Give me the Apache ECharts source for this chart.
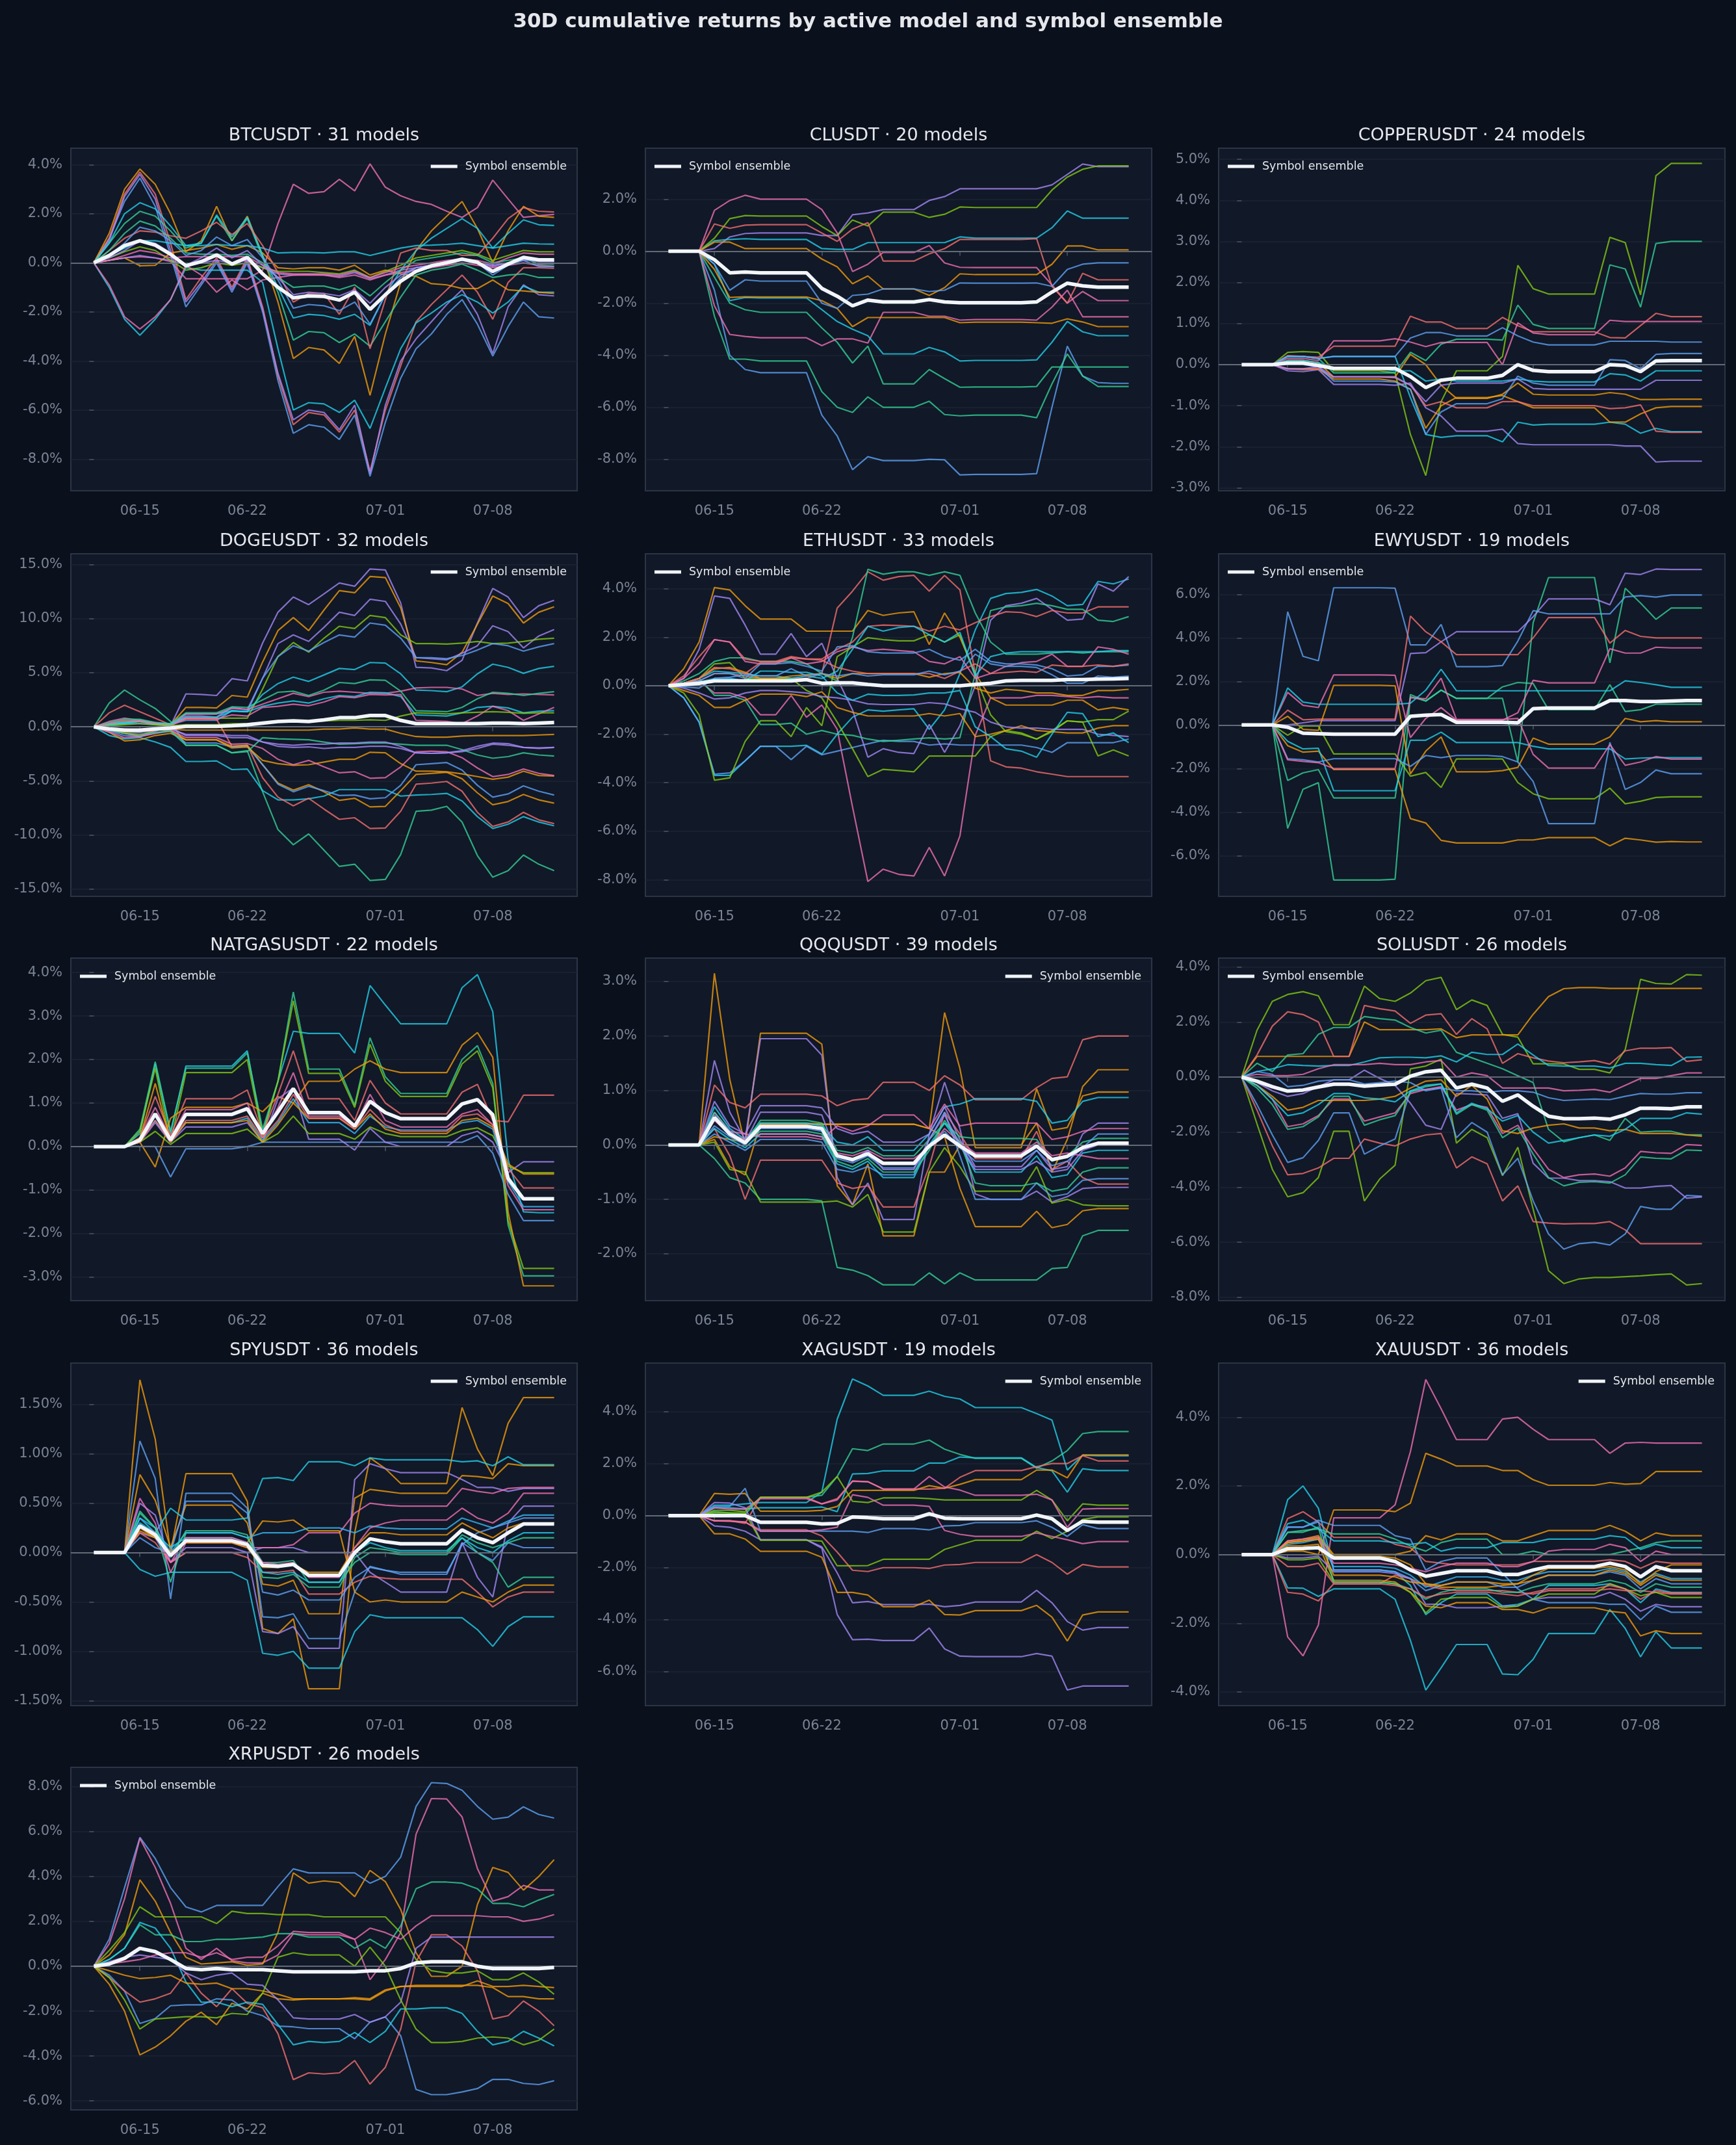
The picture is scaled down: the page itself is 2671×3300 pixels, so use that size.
<!DOCTYPE html>
<html>
<head>
<meta charset="UTF-8">
<title>30D cumulative returns</title>
<script src="https://cdn.jsdelivr.net/npm/echarts@6/dist/echarts.min.js"></script>
<style>
html,body{margin:0;padding:0;background:#0b101d;}
#chart{width:2671px;height:3300px;}
</style>
</head>
<body>
<div id="chart"></div>
<script>
// one point per day, 06-12 .. 07-12
var days = ['06-12','06-13','06-14','06-15','06-16','06-17','06-18','06-19','06-20','06-21','06-22','06-23','06-24','06-25','06-26','06-27','06-28','06-29','06-30','07-01','07-02','07-03','07-04','07-05','07-06','07-07','07-08','07-09','07-10','07-11','07-12'];
var tickLabels = ['06-15','06-22','07-01','07-08'];

var symbols = ['BTCUSDT','CLUSDT','COPPERUSDT','DOGEUSDT','ETHUSDT','EWYUSDT','NATGASUSDT','QQQUSDT','SOLUSDT','SPYUSDT','XAGUSDT','XAUUSDT','XRPUSDT'];
var modelCounts = [31,20,24,32,33,19,22,39,26,36,19,36,26];

// ---- BTCUSDT
var btcTicks = [-8,-6,-4,-2,0,2,4];
var btcEnsemble = [0,0.3,0.7,0.9,0.72,0.35,-0.12,0.05,0.32,-0.05,0.22,-0.45,-1.0,-1.43,-1.35,-1.37,-1.52,-1.2,-1.9,-1.3,-0.75,-0.35,-0.12,0.0,0.15,0.02,-0.35,-0.05,0.22,0.12,0.12];
var btcModels = [
 [0,0.1,0.2,0.25,0.2,0.05,-0.65,-0.65,-0.65,-0.65,-0.65,-0.3,1.6,3.2,2.83,2.9,3.4,2.93,4.03,3.08,2.73,2.5,2.38,2.1,1.85,2.25,3.37,2.6,1.85,1.92,1.97],
 [0,1.0,2.5,3.45,2.3,0.3,-1.8,-0.9,0.0,-1.2,0.0,-2.0,-4.8,-6.95,-6.6,-6.7,-7.2,-6.2,-8.7,-6.5,-4.7,-3.5,-2.9,-2.1,-1.5,-2.5,-3.8,-2.6,-1.6,-2.2,-2.25],
 [0,1.0,2.8,3.7,2.8,0.8,-1.5,-0.6,0.2,-1.0,0.2,-1.8,-4.6,-6.6,-6.1,-6.2,-6.9,-6.0,-8.5,-6.0,-4.2,-2.4,-1.7,-1.1,-0.5,-1.2,-2.3,-0.8,-0.2,-0.2,-0.22],
 [0,0.9,2.7,3.6,2.6,0.5,-1.6,-0.8,0.1,-1.1,0.1,-1.9,-4.5,-6.4,-6.0,-6.1,-6.8,-5.8,-8.6,-5.8,-4.0,-3.1,-2.4,-1.7,-1.1,-2.1,-3.7,-1.8,-0.9,-1.3,-1.35],
 [0,-1.0,-2.3,-2.95,-2.3,-1.5,-0.2,-0.3,-0.3,-0.3,-0.3,-0.8,-3.5,-6.0,-5.7,-5.75,-6.1,-5.6,-6.75,-5.1,-3.5,-2.45,-2.05,-1.6,-1.3,-1.6,-2.05,-1.6,-0.95,-1.2,-1.2],
 [0,1.2,3.0,3.82,3.2,2.0,0.45,0.9,2.3,0.9,1.9,0.3,-1.6,-3.9,-3.45,-3.55,-4.1,-3.0,-5.4,-2.9,-0.8,0.5,1.3,1.9,2.5,1.4,0.0,1.3,2.3,1.9,1.85],
 [0,0.1,0.2,-0.12,-0.1,0.4,0.5,0.6,0.75,0.55,0.7,0.4,-0.2,-0.25,-0.2,-0.2,-0.3,-0.1,-0.5,-0.3,-0.45,-0.55,-0.85,-0.9,-1.05,-1.05,-0.7,-1.1,-1.15,-1.2,-1.25],
 [0,0.3,0.6,0.9,0.9,0.8,0.7,0.7,0.75,0.7,0.7,0.6,0.4,0.42,0.42,0.4,0.45,0.45,0.3,0.45,0.6,0.7,0.72,0.75,0.8,0.7,0.6,0.7,0.8,0.77,0.76],
 [0,0.8,1.6,2.1,1.9,1.3,0.6,0.8,1.9,0.9,1.8,0.2,-1.2,-3.15,-2.8,-2.85,-3.25,-2.9,-3.4,-2.4,-1.4,-0.5,-0.3,-0.2,-0.05,-0.3,-0.6,-0.5,-0.45,-0.6,-0.6],
 [0,0.8,2.0,2.45,2.2,1.5,0.7,0.8,1.95,1.05,1.85,0.3,-1.0,-2.25,-2.1,-2.15,-2.3,-2.1,-2.55,-1.3,-0.3,0.5,1.0,1.4,1.8,1.4,0.6,1.2,1.75,1.55,1.52],
 [0,0.1,0.2,0.3,0.2,0.1,-0.1,0.0,0.1,0.0,0.1,-0.2,-0.45,-0.5,-0.48,-0.5,-0.55,-0.4,-0.65,-0.5,-0.3,-0.2,-0.1,0.0,0.1,0.0,-0.1,0.0,0.1,0.1,0.1],
 [0,0.5,1.0,1.3,1.25,1.1,1.0,1.3,1.65,1.15,1.6,0.7,-0.4,-1.6,-1.25,-1.25,-2.1,-1.0,-3.5,-1.5,0.4,0.6,0.5,0.5,0.3,0.3,1.0,1.8,2.25,2.1,2.07],
 [0,0.2,0.45,0.65,0.5,0.1,-0.3,-0.2,0.0,-0.1,0.0,-0.2,-0.35,-0.35,-0.35,-0.4,-0.45,-0.3,-0.6,-0.35,-0.1,0.2,0.3,0.4,0.5,0.35,0.1,0.3,0.5,0.45,0.45],
 [0,-0.9,-2.2,-2.7,-2.2,-1.5,-0.1,-0.5,-1.2,-0.7,-1.1,-0.7,-0.6,-0.5,-0.5,-0.5,-0.6,-0.5,-0.7,-0.5,-0.4,-0.3,-0.2,-0.1,0.0,-0.1,-0.2,-0.1,0.0,-0.1,-0.15],
 [0,0.5,1.2,1.7,1.5,1.0,0.4,0.35,0.35,0.3,0.35,0.0,-0.6,-1.0,-0.95,-0.95,-1.1,-0.9,-1.35,-0.8,-0.3,0.1,0.2,0.3,0.4,0.3,0.0,0.1,0.2,-0.05,-0.05],
 [0,0.3,0.8,1.45,1.3,0.9,0.3,0.5,1.05,0.7,0.95,0.2,-0.7,-1.85,-1.7,-1.75,-1.95,-1.6,-2.5,-1.3,-0.6,-0.2,-0.1,0.0,0.1,0.0,-0.5,-0.1,0.1,-0.15,-0.15],
 [0,0.1,0.3,0.5,0.4,0.2,0.25,0.25,0.25,0.25,0.25,-0.1,-0.4,-0.45,-0.45,-0.45,-0.5,-0.35,-0.6,-0.4,-0.2,-0.1,0.0,0.1,0.15,0.1,-0.05,0.2,0.4,0.35,0.35],
 [0,0.2,0.5,0.9,0.8,0.4,-0.1,0.2,0.6,0.2,0.5,-0.1,-0.6,-1.3,-1.2,-1.25,-1.35,-1.1,-1.65,-1.0,-0.5,-0.2,-0.1,0.05,0.15,0.0,-0.15,0.0,0.15,0.05,0.05]
];

// ---- CLUSDT
var clTicks = [-8,-6,-4,-2,0,2];
var clEnsemble = [0,0,0,-0.33,-0.83,-0.8,-0.83,-0.83,-0.83,-0.83,-1.43,-1.73,-2.1,-1.88,-1.95,-1.95,-1.95,-1.86,-1.95,-1.98,-1.98,-1.98,-1.98,-1.98,-1.95,-1.57,-1.23,-1.33,-1.38,-1.38,-1.38];
var clModels = [
 [0,0,0,0.1,0.55,0.68,0.7,0.7,0.7,0.7,0.6,0.6,1.4,1.47,1.6,1.6,1.6,1.95,2.1,2.4,2.4,2.4,2.4,2.4,2.4,2.55,2.95,3.35,3.25,3.25,3.25],
 [0,0,0,0.5,1.25,1.37,1.35,1.35,1.35,1.35,0.95,0.6,1.2,0.97,1.5,1.5,1.5,1.3,1.42,1.7,1.68,1.68,1.68,1.68,1.68,2.35,2.85,3.15,3.28,3.28,3.28],
 [0,0,0,1.57,1.95,2.15,2.0,2.0,2.0,2.0,1.6,0.7,-0.78,-0.5,-0.05,-0.05,-0.05,0.22,-0.45,-0.62,-0.63,-0.63,-0.63,-0.63,-0.63,-1.3,-2.0,-1.55,-1.9,-1.9,-1.9],
 [0,0,0,0.4,0.45,0.48,0.45,0.45,0.45,0.45,0.1,0.07,0.07,0.33,0.33,0.33,0.33,0.33,0.33,0.55,0.5,0.5,0.5,0.5,0.5,0.9,1.55,1.27,1.27,1.27,1.27],
 [0,0,0,-1.5,-4.0,-4.55,-4.67,-4.67,-4.67,-4.67,-6.3,-7.1,-8.4,-7.9,-8.05,-8.05,-8.05,-8.0,-8.02,-8.6,-8.58,-8.58,-8.58,-8.58,-8.55,-6.0,-3.65,-4.8,-5.05,-5.08,-5.08],
 [0,0,0,-2.5,-4.15,-4.15,-4.22,-4.22,-4.22,-4.22,-5.4,-6.0,-6.2,-5.6,-6.0,-6.0,-6.0,-5.77,-6.28,-6.33,-6.3,-6.3,-6.3,-6.3,-6.4,-5.1,-3.95,-4.8,-5.2,-5.2,-5.2],
 [0,0,0,-1.0,-2.0,-2.25,-2.35,-2.35,-2.35,-2.35,-2.95,-3.5,-4.3,-3.65,-5.1,-5.1,-5.1,-4.55,-4.9,-5.23,-5.22,-5.22,-5.22,-5.22,-5.2,-4.45,-4.45,-4.45,-4.45,-4.45,-4.45],
 [0,0,0,-2.1,-3.2,-3.28,-3.33,-3.33,-3.33,-3.33,-3.63,-3.37,-3.37,-3.53,-2.35,-2.35,-2.35,-2.5,-2.5,-2.65,-2.63,-2.63,-2.63,-2.63,-2.65,-2.15,-1.5,-2.52,-2.52,-2.52,-2.52],
 [0,0,0,-0.5,-1.9,-1.78,-1.8,-1.8,-1.8,-1.8,-2.25,-2.7,-3.0,-3.25,-3.95,-3.95,-3.95,-3.7,-3.87,-4.22,-4.2,-4.2,-4.2,-4.2,-4.18,-3.5,-2.7,-3.1,-3.25,-3.25,-3.25],
 [0,0,0,-0.7,-1.78,-1.75,-1.76,-1.76,-1.76,-1.76,-1.9,-2.2,-2.9,-2.55,-2.55,-2.55,-2.55,-2.55,-2.55,-2.75,-2.73,-2.73,-2.73,-2.73,-2.75,-2.77,-2.6,-2.72,-2.9,-2.9,-2.9],
 [0,0,0,0.35,0.35,0.1,0.1,0.1,0.1,0.1,-0.3,-0.6,-1.25,-0.95,-1.45,-1.45,-1.45,-1.7,-1.4,-0.87,-0.9,-0.9,-0.9,-0.9,-0.9,-0.5,0.2,0.2,0.05,0.05,0.05],
 [0,0,0,1.05,0.88,1.0,1.02,1.02,1.02,1.02,0.7,0.38,0.85,1.1,-0.38,-0.38,-0.38,-0.1,0.1,0.45,0.45,0.45,0.45,0.45,0.48,-1.35,-2.0,-0.85,-1.1,-1.1,-1.1],
 [0,0,0,-0.5,-1.5,-1.1,-1.15,-1.15,-1.15,-1.15,-2.0,-2.2,-1.7,-1.65,-1.45,-1.45,-1.45,-1.55,-1.5,-1.22,-1.23,-1.23,-1.23,-1.23,-1.22,-1.35,-0.7,-0.5,-0.45,-0.45,-0.45]
];

// ---- COPPERUSDT
var cuTicks = [-3,-2,-1,0,1,2,3,4,5];
var cuEnsemble = [0,0,0,0.04,0.04,-0.02,-0.09,-0.09,-0.09,-0.09,-0.09,-0.29,-0.56,-0.38,-0.33,-0.33,-0.33,-0.26,0.0,-0.14,-0.17,-0.17,-0.17,-0.17,0.0,-0.02,-0.17,0.09,0.1,0.1,0.1];
var cuModels = [
 [0,0,0,0.3,0.32,0.3,-0.15,-0.15,-0.15,-0.15,-0.2,-1.7,-2.7,-0.9,-0.15,-0.15,-0.15,0.2,2.42,1.85,1.72,1.72,1.72,1.72,3.1,2.97,1.7,4.6,4.9,4.9,4.9],
 [0,0,0,0.2,0.2,0.15,-0.2,-0.2,-0.2,-0.2,-0.2,0.3,0.1,0.5,0.62,0.62,0.62,0.6,1.45,0.98,0.88,0.88,0.88,0.88,2.43,2.33,1.4,2.95,3.0,3.0,3.0],
 [0,0,0,0.22,0.2,0.18,0.45,0.45,0.45,0.45,0.45,1.18,1.04,1.04,0.88,0.88,0.88,1.15,0.95,0.8,0.8,0.8,0.8,0.8,0.66,0.65,0.95,1.25,1.17,1.17,1.17],
 [0,0,0,0.15,0.15,0.1,0.58,0.58,0.58,0.58,0.63,0.55,0.44,0.54,0.54,0.54,0.54,0.0,1.02,0.77,0.73,0.73,0.73,0.73,1.08,1.05,1.05,1.05,1.05,1.05,1.05],
 [0,0,0,-0.15,-0.17,-0.12,-0.48,-0.48,-0.48,-0.48,-0.5,-0.45,-1.05,-1.25,-1.62,-1.62,-1.62,-1.57,-1.92,-1.95,-1.95,-1.95,-1.95,-1.95,-1.95,-1.98,-1.98,-2.37,-2.35,-2.35,-2.35],
 [0,0,0,0.2,0.2,0.15,0.2,0.2,0.2,0.2,0.2,-0.8,-1.7,-1.77,-1.73,-1.73,-1.73,-1.88,-1.4,-1.47,-1.45,-1.45,-1.45,-1.45,-1.4,-1.45,-1.67,-1.55,-1.63,-1.63,-1.63],
 [0,0,0,0.2,0.2,0.15,0.2,0.2,0.2,0.2,0.2,0.65,0.78,0.78,0.7,0.7,0.7,0.9,0.7,0.55,0.48,0.48,0.48,0.48,0.57,0.57,0.57,0.57,0.55,0.55,0.55],
 [0,0,0,-0.1,-0.12,-0.1,-0.35,-0.35,-0.35,-0.35,-0.4,-0.6,-1.55,-1.0,-0.8,-0.8,-0.8,-0.75,-0.9,-1.05,-1.05,-1.05,-1.05,-1.05,-1.4,-1.4,-1.2,-1.05,-1.02,-1.02,-1.02],
 [0,0,0,0.1,0.1,0.05,-0.3,-0.3,-0.3,-0.3,-0.3,0.25,0.0,-0.5,-0.82,-0.82,-0.82,-0.72,-0.45,-0.72,-0.74,-0.74,-0.74,-0.74,-0.68,-0.72,-0.85,-0.85,-0.84,-0.84,-0.84],
 [0,0,0,-0.1,-0.1,-0.1,-0.3,-0.3,-0.3,-0.3,-0.32,-0.5,-1.0,-0.9,-1.05,-1.05,-1.05,-0.9,-0.9,-1.0,-1.0,-1.0,-1.0,-1.0,-1.07,-1.05,-0.98,-1.62,-1.65,-1.65,-1.65],
 [0,0,0,0.1,0.1,0.05,-0.1,-0.1,-0.1,-0.1,-0.15,-0.15,-0.4,-0.35,-0.4,-0.4,-0.4,-0.4,-0.35,-0.4,-0.42,-0.42,-0.42,-0.42,-0.22,-0.25,-0.4,-0.15,-0.15,-0.15,-0.15],
 [0,0,0,0.0,0.0,-0.05,-0.4,-0.4,-0.4,-0.4,-0.42,-0.6,-1.7,-1.15,-0.95,-0.95,-0.95,-0.83,-0.28,-0.45,-0.5,-0.5,-0.5,-0.5,0.12,0.1,-0.1,0.25,0.27,0.27,0.27],
 [0,0,0,-0.1,-0.1,-0.05,-0.3,-0.3,-0.3,-0.3,-0.3,-0.5,-0.9,-0.5,-0.45,-0.45,-0.45,-0.45,-0.35,-0.58,-0.6,-0.6,-0.6,-0.6,-0.6,-0.6,-0.6,-0.38,-0.38,-0.38,-0.38]
];

// ---- DOGEUSDT
var dogeTicks = [-15,-10,-5,0,5,10,15];
var dogeEnsemble = [0,-0.2,-0.3,-0.3,-0.2,-0.1,0.05,0.05,0.05,0.1,0.2,0.35,0.5,0.55,0.5,0.65,0.85,0.85,1.05,1.05,0.6,0.3,0.3,0.3,0.3,0.3,0.35,0.35,0.3,0.35,0.4];
var dogeModels = [
 [0,-0.3,-0.6,-0.9,-0.4,0.1,3.05,3.0,2.9,4.45,4.25,7.75,10.6,12.0,11.3,12.3,13.3,13.0,14.6,14.5,11.45,5.5,5.45,5.2,6.15,9.6,12.8,12.0,10.1,11.2,11.7],
 [0,-0.3,-0.6,-0.8,-0.3,0.2,1.8,1.8,1.75,2.9,2.75,6.0,8.9,10.1,8.9,10.8,12.6,12.4,13.9,13.8,11.0,6.1,5.95,5.75,6.9,9.5,12.1,11.4,9.6,10.6,11.1],
 [0,0.2,0.4,0.5,0.3,0.2,1.0,1.0,0.9,1.8,1.6,4.5,7.7,8.5,7.9,9.2,10.6,10.3,11.8,11.6,9.5,6.4,6.3,6.2,6.8,7.5,9.35,8.8,7.3,8.4,9.0],
 [0,0.3,0.5,0.6,0.3,0.3,0.8,0.8,0.8,0.8,0.8,3.5,6.5,7.8,6.9,8.2,9.3,9.1,10.3,10.1,8.5,7.7,7.7,7.65,7.75,7.9,7.7,7.75,7.9,8.1,8.2],
 [0,0.2,0.3,0.3,0.2,0.2,0.6,0.6,0.6,1.5,1.4,4.5,6.5,7.5,7.0,7.8,8.5,8.3,9.6,9.4,8.2,6.4,6.4,6.3,6.6,7.1,7.7,7.5,7.0,7.4,7.7],
 [0,0.2,0.3,0.5,0.2,0.1,1.2,1.2,1.2,1.5,1.4,3.0,4.0,4.6,4.2,4.8,5.4,5.3,5.95,5.9,4.9,3.4,3.35,3.25,3.7,4.9,5.8,5.5,4.95,5.4,5.6],
 [0,2.2,3.4,2.5,1.7,0.5,-1.7,-1.7,-1.7,-2.4,-2.2,-6.0,-9.5,-10.9,-9.9,-11.4,-12.9,-12.7,-14.2,-14.1,-11.8,-7.8,-7.7,-7.35,-8.8,-11.9,-13.9,-13.3,-11.85,-12.7,-13.3],
 [0,-0.8,-1.1,-1.0,-1.4,-1.9,-3.2,-3.2,-3.15,-3.95,-3.9,-5.9,-6.75,-6.75,-6.65,-6.4,-5.8,-5.8,-5.8,-5.8,-6.4,-6.3,-6.25,-6.15,-6.85,-8.3,-9.4,-9.0,-8.3,-8.8,-9.15],
 [0,1.3,2.0,1.4,0.8,0.2,0.7,0.7,0.7,-1.8,-1.7,-4.7,-6.5,-7.3,-6.6,-7.6,-8.55,-8.4,-9.4,-9.35,-7.8,-5.3,-5.2,-5.05,-5.95,-7.9,-9.2,-8.8,-7.9,-8.6,-8.95],
 [0,-0.5,-1.3,-1.2,-0.8,-0.6,-1.2,-1.2,-1.2,-1.8,-1.7,-3.5,-5.2,-5.85,-5.35,-6.0,-6.8,-6.6,-7.4,-7.35,-5.9,-4.4,-4.3,-4.2,-4.8,-6.1,-7.2,-6.9,-6.25,-6.75,-7.05],
 [0,-0.4,-0.8,-0.9,-0.6,-0.4,-1.5,-1.5,-1.5,-1.85,-1.8,-3.5,-5.3,-6.0,-5.5,-5.9,-6.35,-6.3,-6.65,-6.55,-5.4,-3.5,-3.4,-3.3,-4.0,-5.4,-6.5,-6.2,-5.45,-5.95,-6.3],
 [0,-0.3,-0.5,-0.5,-0.3,-0.3,-1.2,-1.2,-1.2,-1.95,-1.85,-3.1,-3.4,-3.55,-3.5,-3.25,-3.0,-3.0,-2.35,-2.4,-3.4,-4.1,-4.1,-4.15,-4.35,-4.6,-4.85,-4.65,-4.1,-4.5,-4.55],
 [0,-0.5,-1.0,-0.9,-0.6,-0.3,-1.0,-1.0,-1.0,-1.6,-1.55,-2.0,-3.0,-3.5,-3.1,-3.7,-4.25,-4.15,-4.75,-4.7,-3.7,-2.3,-2.25,-2.3,-2.85,-3.8,-4.6,-4.4,-3.9,-4.3,-4.5],
 [0,0.5,0.8,0.6,0.4,0.2,1.2,1.2,1.2,1.7,1.6,2.1,2.6,3.1,2.8,3.2,3.3,3.2,3.1,3.1,3.3,3.6,3.65,3.65,3.5,2.9,3.1,3.0,3.05,3.0,2.95],
 [0,0.4,0.7,0.7,0.4,0.3,1.3,1.3,1.3,1.85,1.8,2.5,3.2,3.3,2.9,3.4,4.1,4.0,4.35,4.3,3.3,1.5,1.45,1.4,1.8,2.6,3.2,3.1,2.9,3.1,3.25],
 [0,-0.2,-0.4,-0.5,-0.3,-0.2,-0.7,-0.7,-0.7,-0.8,-0.8,-1.4,-1.8,-1.9,-1.85,-2.0,-1.9,-1.9,-1.8,-1.8,-2.0,-2.4,-2.45,-2.4,-2.3,-2.0,-1.6,-1.7,-1.9,-2.0,-1.9],
 [0,-0.2,-0.3,-0.3,-0.2,-0.2,-0.3,-0.3,-0.3,-0.3,-0.3,-0.3,-0.3,-0.3,-0.3,-0.2,-0.2,-0.1,-0.2,-0.2,-0.6,-0.9,-0.95,-0.95,-0.85,-0.8,-0.8,-0.8,-0.8,-0.75,-0.7],
 [0,0.2,0.4,0.5,0.3,0.2,0.9,0.9,0.9,1.45,1.4,1.9,2.2,2.4,2.2,2.6,2.9,2.8,3.2,3.15,2.8,1.1,1.05,1.0,1.3,1.8,1.9,1.75,1.3,1.45,1.5],
 [0,-0.3,-0.6,-0.7,-0.5,-0.4,-1.7,-1.7,-1.7,-2.4,-2.3,-1.0,-1.1,-1.15,-1.2,-1.4,-1.6,-1.55,-1.5,-1.5,-1.6,-1.7,-1.7,-1.7,-2.1,-2.6,-2.9,-2.75,-2.4,-2.6,-2.7],
 [0,0.3,0.6,0.5,0.3,0.1,0.8,0.8,0.75,1.1,1.0,1.8,1.9,2.1,1.95,2.3,2.8,2.7,3.0,2.95,3.0,0.6,0.55,0.5,0.3,1.0,1.9,1.5,0.6,1.2,1.8],
 [0,-0.1,-0.2,-0.3,-0.2,-0.1,-0.8,-0.8,-0.8,-1.0,-1.0,-1.4,-1.6,-1.7,-1.6,-1.6,-1.5,-1.5,-1.4,-1.4,-1.8,-2.4,-2.45,-2.4,-2.2,-1.8,-1.5,-1.55,-1.9,-1.95,-1.9],
 [0,0.1,0.2,0.3,0.2,0.1,0.2,0.2,0.2,0.3,0.3,0.4,0.5,0.55,0.5,0.55,0.6,0.6,0.65,0.6,1.0,1.3,1.25,1.2,1.3,1.35,1.4,1.35,1.25,1.3,1.3]
];

// ---- ETHUSDT
var ethTicks = [-8,-6,-4,-2,0,2,4];
var ethEnsemble = [0,0.05,0.1,0.2,0.2,0.2,0.2,0.2,0.2,0.25,0.1,0.12,0.12,0.05,0.0,0.0,0.0,0.0,0.0,0.0,0.05,0.1,0.2,0.22,0.22,0.22,0.25,0.25,0.27,0.28,0.3];
var ethModels = [
 [0,0.1,0.2,-0.3,-0.3,-0.5,-1.2,-1.2,-0.4,-1.3,-0.8,-1.8,-5.0,-8.08,-7.57,-7.78,-7.85,-6.67,-7.85,-6.2,-2.05,-0.5,-0.5,-0.5,-0.4,-0.4,-0.45,-0.5,-0.45,-0.5,-0.5],
 [0,0.7,1.8,4.05,3.95,3.3,2.75,2.75,2.75,2.25,2.25,2.25,2.25,3.1,2.9,3.0,3.05,1.7,3.0,2.0,0.5,-0.5,-0.8,-0.8,-0.8,-0.8,-0.6,-0.6,-1.0,-0.9,-1.0],
 [0,0.1,0.2,0.5,0.5,0.4,0.3,0.3,0.3,0.3,0.5,3.2,3.9,4.7,4.35,4.5,4.55,3.9,4.55,3.95,0.5,-3.1,-3.35,-3.4,-3.55,-3.65,-3.75,-3.75,-3.75,-3.75,-3.75],
 [0,0.2,0.5,1.0,1.15,1.15,1.0,1.0,1.0,0.9,0.5,0.2,2.0,4.8,4.6,4.7,4.7,4.55,4.7,4.55,3.0,1.8,1.3,1.3,1.3,1.35,1.4,1.35,1.4,1.4,1.4],
 [0,-0.5,-1.5,-3.7,-3.7,-3.1,-2.5,-2.5,-2.5,-2.46,-2.82,-2.0,-1.3,-1.0,-1.05,-1.0,-0.95,-1.8,-1.0,0.5,2.3,3.6,3.8,3.85,3.97,3.7,3.3,3.35,4.3,4.2,4.4],
 [0,-0.5,-1.5,-3.65,-3.6,-3.1,-2.5,-2.5,-3.05,-2.5,-2.85,-2.7,-2.55,-2.4,-2.25,-2.3,-2.3,-2.45,-2.4,-2.45,-2.45,-2.45,-2.45,-2.45,-2.55,-2.75,-2.35,-2.35,-2.35,-2.35,-2.2],
 [0,-0.3,-1.2,-3.9,-3.8,-2.3,-1.45,-1.45,-2.1,-0.9,-1.65,1.2,1.6,1.98,1.9,1.85,1.85,2.1,1.8,2.1,0.4,-1.2,-1.9,-2.0,-2.2,-1.85,-1.45,-1.5,-2.9,-2.65,-2.9],
 [0,0.1,0.3,0.9,0.95,0.3,0.3,0.3,0.3,-0.2,-0.5,-1.5,-2.6,-3.75,-3.45,-3.5,-3.55,-2.9,-2.9,-2.9,-2.9,-2.1,-1.85,-1.95,-2.2,-1.9,-1.45,-1.5,-1.4,-1.4,-1.05],
 [0,0.3,1.5,3.7,3.6,2.5,1.3,1.3,2.15,1.2,1.75,0.3,-1.0,-2.95,-2.6,-2.75,-2.8,-1.6,-2.75,-1.65,0.0,2.7,3.3,3.4,3.6,3.15,2.7,2.75,4.2,3.9,4.5],
 [0,0.4,1.2,1.9,1.8,1.1,1.0,1.0,1.2,1.1,1.1,1.5,1.8,2.45,2.5,2.48,2.45,2.25,2.45,2.3,2.6,2.85,3.05,3.02,2.85,3.1,3.0,3.0,3.25,3.25,3.25],
 [0,0.1,0.3,-0.4,-0.4,-0.6,-1.6,-1.6,-1.55,-2.0,-1.85,-2.0,-2.05,-2.2,-2.3,-2.25,-2.2,-2.15,-2.2,-2.15,0.5,3.1,3.25,3.3,3.4,3.3,3.15,3.15,2.7,2.65,2.85],
 [0,-0.2,-0.4,-0.9,-0.9,-0.6,-0.35,-0.35,-0.35,-0.45,-0.25,-0.9,-1.1,-1.25,-1.25,-1.25,-1.25,-1.15,-1.25,-1.15,-2.1,-2.0,-1.85,-1.65,-1.85,-1.9,-1.95,-1.95,-1.75,-1.65,-1.65],
 [0,0.1,0.3,0.6,0.55,0.5,0.4,0.4,0.3,0.4,0.3,0.6,1.5,2.45,2.25,2.4,2.45,2.1,1.8,2.2,0.4,1.2,1.35,1.4,1.4,1.4,1.4,1.4,1.4,1.45,1.45],
 [0,0.3,0.9,1.9,1.8,1.0,0.9,0.9,1.15,0.9,1.0,1.4,1.6,1.45,1.5,1.45,1.4,1.0,0.9,1.2,0.3,0.5,0.8,0.95,1.0,1.3,0.8,0.8,1.6,1.5,1.3],
 [0,0.1,0.3,0.7,0.75,0.55,0.3,0.3,0.4,0.45,0.5,0.3,0.5,0.5,0.5,0.5,0.5,0.35,0.5,0.55,-0.1,-0.3,-0.15,-0.2,-0.3,-0.3,-0.4,-0.4,-0.2,-0.2,-0.15],
 [0,0.1,0.2,0.5,0.5,0.3,0.9,0.9,0.95,0.8,0.6,1.6,1.65,1.4,1.35,1.35,1.35,1.5,1.2,1.05,1.5,1.0,0.9,0.9,0.85,0.7,0.4,0.45,0.8,0.8,0.85],
 [0,-0.1,-0.3,-0.55,-0.5,-0.3,-0.2,-0.2,-0.25,-0.3,-0.45,-0.5,-0.6,-0.75,-0.78,-0.78,-0.78,-0.7,-0.75,-0.95,-1.1,-1.5,-1.7,-1.75,-1.75,-1.8,-1.8,-1.8,-2.0,-2.05,-2.1],
 [0,0.05,0.15,0.3,0.3,0.2,0.6,0.6,0.55,0.55,0.4,-0.3,-0.6,-0.35,-0.4,-0.4,-0.38,-0.3,-0.3,-0.2,-1.7,-2.1,-2.6,-2.7,-2.95,-2.0,-1.1,-1.15,-2.1,-1.95,-2.35],
 [0,0.1,0.3,0.75,0.7,0.5,0.95,0.95,1.15,1.1,1.05,0.75,0.6,0.5,0.5,0.5,0.5,0.5,0.3,0.6,0.9,0.5,0.55,0.6,0.55,0.85,0.8,0.8,0.85,0.8,0.9],
 [0,-0.05,-0.1,0.3,0.35,0.45,0.4,0.4,0.7,0.4,0.5,0.4,0.5,0.4,0.45,0.45,0.45,0.6,0.45,0.6,1.3,0.9,0.8,0.8,0.75,0.45,0.1,0.1,0.4,0.35,0.4]
];

// ---- EWYUSDT
var ewyTicks = [-6,-4,-2,0,2,4,6];
var ewyEnsemble = [0,0,0,-0.1,-0.38,-0.4,-0.42,-0.42,-0.42,-0.42,-0.42,0.4,0.45,0.48,0.12,0.12,0.12,0.12,0.1,0.75,0.78,0.78,0.78,0.78,1.12,1.12,1.08,1.08,1.1,1.12,1.12];
var ewyModels = [
 [0,0,0,5.2,3.15,2.95,6.3,6.3,6.3,6.3,6.28,3.68,3.68,4.62,2.68,2.68,2.68,2.73,3.85,5.25,5.1,5.1,5.1,5.1,5.1,5.88,5.94,5.87,5.97,5.97,5.97],
 [0,0,0,-4.75,-2.95,-2.65,-7.12,-7.12,-7.12,-7.12,-7.08,1.4,1.1,1.6,1.22,1.22,1.22,1.75,1.95,1.9,0.7,0.7,0.7,0.7,1.85,0.62,0.7,0.95,0.95,0.95,0.95],
 [0,0,0,-2.55,-2.2,-2.05,-3.35,-3.35,-3.35,-3.35,-3.35,1.3,1.1,1.6,1.22,1.22,1.22,1.22,-1.7,4.7,6.77,6.77,6.77,6.77,2.85,6.28,5.6,4.85,5.37,5.37,5.37],
 [0,0,0,0.0,0.1,0.2,0.2,0.2,0.2,0.2,0.2,3.28,3.32,3.82,4.28,4.28,4.28,4.28,4.28,4.97,5.79,5.79,5.79,5.79,5.52,6.97,6.91,7.16,7.14,7.14,7.14],
 [0,0,0,0.68,0.24,0.27,0.27,0.27,0.27,0.27,0.27,5.0,4.28,3.82,3.23,3.23,3.23,3.23,3.23,4.0,4.93,4.93,4.93,4.93,3.76,4.34,4.07,4.0,4.0,4.0,4.0],
 [0,0,0,1.5,0.9,0.8,2.3,2.3,2.3,2.3,2.28,-0.58,0.3,0.8,0.22,0.22,0.22,0.22,0.56,2.05,1.93,1.93,1.93,1.93,3.5,3.3,3.3,3.57,3.54,3.54,3.54],
 [0,0,0,-0.95,-1.25,-1.2,-2.05,-2.05,-2.05,-2.05,-2.05,-4.3,-4.5,-5.3,-5.42,-5.42,-5.42,-5.42,-5.28,-5.28,-5.17,-5.17,-5.17,-5.17,-5.55,-5.2,-5.28,-5.38,-5.35,-5.37,-5.37],
 [0,0,0,0.4,-0.2,-0.25,1.82,1.82,1.82,1.82,1.8,-2.25,-1.2,-0.55,-2.15,-2.15,-2.15,-2.1,-1.95,-0.6,-0.88,-0.88,-0.88,-0.88,-0.55,0.3,0.15,0.2,0.15,0.15,0.15],
 [0,0,0,1.7,1.05,0.95,0.95,0.95,0.95,0.95,0.95,1.0,1.6,2.56,1.57,1.57,1.57,1.57,1.57,1.57,1.57,1.57,1.57,1.57,1.57,2.03,1.95,1.85,1.73,1.73,1.73],
 [0,0,0,-0.75,-1.1,-1.07,-3.02,-3.02,-3.02,-3.02,-3.02,-0.7,-0.7,-0.33,-0.81,-0.81,-0.81,-0.81,-0.81,-0.98,-1.1,-1.1,-1.1,-1.1,-1.1,-1.56,-1.52,-1.5,-1.5,-1.5,-1.5],
 [0,0,0,-0.47,-0.05,-0.05,-1.33,-1.33,-1.33,-1.33,-1.33,-2.35,-2.18,-2.87,-1.56,-1.56,-1.56,-1.56,-2.64,-3.16,-3.39,-3.39,-3.39,-3.39,-2.9,-3.62,-3.5,-3.33,-3.3,-3.3,-3.3],
 [0,0,0,-1.55,-1.6,-1.7,-1.55,-1.55,-1.55,-1.55,-1.55,-1.9,-1.4,-1.5,-1.4,-1.4,-1.4,-1.45,-1.7,-2.6,-4.53,-4.53,-4.53,-4.53,-0.8,-2.96,-2.64,-2.07,-2.24,-2.24,-2.24],
 [0,0,0,-1.6,-1.67,-1.73,-2.0,-2.0,-2.0,-2.0,-2.0,1.25,1.2,2.15,0.25,0.25,0.25,0.25,0.3,-1.35,-1.98,-1.98,-1.98,-1.98,-0.9,-1.85,-1.7,-1.45,-1.57,-1.57,-1.57]
];

// ---- NATGASUSDT
var ngTicks = [-3,-2,-1,0,1,2,3,4];
var ngEnsemble = [0,0,0,0.15,0.75,0.15,0.74,0.74,0.74,0.74,0.87,0.3,0.8,1.33,0.78,0.78,0.78,0.47,1.04,0.78,0.64,0.64,0.64,0.64,0.98,1.08,0.73,-0.73,-1.2,-1.2,-1.2];
var ngModels = [
 [0,0,0,0.3,1.9,0.3,1.85,1.85,1.85,1.85,2.2,0.3,1.5,2.65,2.6,2.6,2.6,2.15,3.7,3.25,2.82,2.82,2.82,2.82,3.65,3.95,3.1,-0.3,-1.5,-1.52,-1.52],
 [0,0,0,0.4,1.95,0.35,1.8,1.8,1.8,1.8,2.15,0.4,1.5,3.55,1.78,1.78,1.78,0.95,2.5,1.6,1.22,1.22,1.22,1.22,2.0,2.32,1.45,-1.8,-2.97,-2.97,-2.97],
 [0,0,0,0.35,1.8,0.1,1.7,1.7,1.7,1.7,2.0,0.25,1.5,3.35,1.68,1.68,1.68,0.9,2.35,1.5,1.15,1.15,1.15,1.15,1.9,2.2,1.35,-1.7,-2.8,-2.8,-2.8],
 [0,0,0,0.1,-0.47,0.65,0.9,0.9,0.9,0.9,1.0,0.8,1.15,1.0,1.5,1.5,1.5,1.78,1.97,1.78,1.7,1.7,1.7,1.7,2.33,2.62,2.05,-1.5,-3.2,-3.2,-3.2],
 [0,0,0,0.2,1.15,0.25,1.1,1.1,1.1,1.1,1.3,0.3,1.2,2.2,1.1,1.1,1.1,0.6,1.52,1.0,0.75,0.75,0.75,0.75,1.25,1.43,0.6,0.57,1.18,1.18,1.18],
 [0,0,0,0.0,0.0,-0.7,-0.05,-0.05,-0.05,-0.05,0.0,0.1,0.1,0.1,0.1,0.1,0.1,0.1,0.1,0.1,0.1,0.1,0.1,0.1,0.1,0.25,-0.15,-1.1,-1.7,-1.7,-1.7],
 [0,0,0,0.1,0.55,0.1,0.45,0.45,0.45,0.45,0.55,0.1,1.1,1.35,0.17,0.17,0.17,-0.08,0.42,0.1,0.0,0.0,0.0,0.0,0.25,0.35,0.1,-0.6,-0.35,-0.35,-0.35],
 [0,0,0,0.1,0.35,0.05,0.3,0.3,0.3,0.3,0.4,0.1,0.3,0.7,0.3,0.3,0.3,0.17,0.45,0.3,0.23,0.23,0.23,0.23,0.37,0.43,0.25,-0.45,-0.6,-0.6,-0.6],
 [0,0,0,0.2,0.9,0.2,0.85,0.85,0.85,0.85,1.0,0.2,0.9,1.7,0.7,0.7,0.7,0.45,1.2,0.6,0.45,0.45,0.45,0.45,0.75,0.85,0.5,-0.9,-1.45,-1.45,-1.45],
 [0,0,0,0.15,0.6,0.1,0.55,0.55,0.55,0.55,0.65,0.15,0.55,1.1,0.55,0.55,0.55,0.3,0.7,0.45,0.38,0.38,0.38,0.38,0.55,0.6,0.4,-0.8,-1.38,-1.38,-1.38],
 [0,0,0,0.2,1.45,0.1,0.55,0.55,0.55,0.55,0.6,0.1,0.5,1.0,0.65,0.65,0.65,0.4,0.75,0.4,0.3,0.3,0.3,0.3,0.6,0.65,0.45,-0.4,-0.63,-0.63,-0.63],
 [0,0,0,0.1,0.6,0.1,0.6,0.6,0.6,0.6,0.7,0.2,0.6,1.2,0.65,0.65,0.65,0.4,0.85,0.5,0.35,0.35,0.35,0.35,0.7,0.75,0.5,-0.5,-0.95,-0.95,-0.95]
];

// ---- QQQUSDT
var qqqTicks = [-2,-1,0,1,2,3];
var qqqEnsemble = [0,0,0,0.5,0.2,0.04,0.34,0.34,0.34,0.34,0.3,-0.2,-0.27,-0.16,-0.34,-0.34,-0.34,-0.02,0.18,-0.02,-0.2,-0.2,-0.2,-0.2,-0.02,-0.27,-0.21,-0.05,0.03,0.03,0.03];
var qqqModels = [
 [0,0,0,3.15,1.2,0.0,2.05,2.05,2.05,2.05,1.85,-0.75,-1.1,-0.35,-1.67,-1.67,-1.67,-0.5,-0.5,0.0,0.0,0.0,0.0,0.0,0.4,-0.5,0.1,1.07,1.38,1.38,1.38],
 [0,0,0,0.1,-0.4,-0.55,0.4,0.4,0.4,0.4,0.38,0.38,0.38,0.38,0.38,0.38,0.38,0.3,2.43,1.4,-0.05,-0.05,-0.05,-0.05,1.03,0.27,0.32,0.9,0.97,0.97,0.97],
 [0,0,0,1.55,0.6,0.1,1.95,1.95,1.95,1.95,1.65,-0.6,-1.1,-0.7,-1.37,-1.37,-1.37,0.2,1.15,0.3,-0.9,-1.0,-1.0,-1.0,-0.85,-1.05,-0.95,-0.8,-0.78,-0.78,-0.78],
 [0,0,0,1.1,0.78,0.68,0.93,0.93,0.93,0.93,0.9,0.72,0.82,0.85,1.15,1.15,1.15,1.0,1.27,1.1,0.83,0.83,0.83,0.83,1.05,1.22,1.25,1.93,2.0,2.0,2.0],
 [0,0,0,-0.25,-0.6,-0.7,-1.0,-1.0,-1.0,-1.0,-1.03,-2.25,-2.3,-2.4,-2.57,-2.57,-2.57,-2.35,-2.55,-2.35,-2.48,-2.48,-2.48,-2.48,-2.48,-2.27,-2.25,-1.67,-1.57,-1.57,-1.57],
 [0,0,0,0.05,-0.45,-0.5,-1.05,-1.05,-1.05,-1.05,-1.05,-1.03,-1.14,-0.91,-1.6,-1.6,-1.6,-0.5,-0.05,-0.4,-0.85,-0.85,-0.85,-0.85,-0.4,-1.07,-1.0,-1.1,-1.12,-1.12,-1.12],
 [0,0,0,0.15,0.1,0.05,0.38,0.38,0.38,0.38,0.38,0.38,0.38,0.38,0.38,0.38,0.38,0.3,0.15,-0.8,-1.5,-1.5,-1.5,-1.5,-1.22,-1.52,-1.46,-1.21,-1.17,-1.17,-1.17],
 [0,0,0,0.7,0.3,0.1,0.4,0.4,0.4,0.4,0.35,0.05,0.0,0.15,-0.1,-0.1,-0.1,0.2,0.7,0.75,0.85,0.85,0.85,0.85,0.8,0.4,0.45,0.8,0.87,0.87,0.87],
 [0,0,0,0.3,-0.2,-1.0,-0.28,-0.28,-0.28,-0.28,-0.28,-0.7,-0.8,-0.75,-1.14,-1.14,-1.14,-0.4,0.6,0.2,-0.25,-0.25,-0.25,-0.25,0.25,-0.45,-0.3,-0.6,-0.72,-0.72,-0.72],
 [0,0,0,0.8,0.35,0.2,0.72,0.72,0.72,0.72,0.68,0.3,0.2,0.25,0.05,0.05,0.05,0.2,0.7,0.1,-0.4,-0.4,-0.4,-0.4,-0.1,-0.45,-0.4,0.2,0.4,0.4,0.4],
 [0,0,0,0.2,0.05,-0.1,0.1,0.1,0.1,0.1,0.05,-0.45,-0.5,-0.4,-0.55,-0.55,-0.55,0.1,0.6,-0.2,-1.0,-1.0,-1.0,-1.0,-0.7,-0.95,-0.9,-0.65,-0.62,-0.62,-0.62],
 [0,0,0,0.6,0.25,0.2,0.15,0.15,0.15,0.15,0.1,0.35,0.25,0.35,0.55,0.55,0.55,0.3,0.75,0.35,0.4,0.4,0.4,0.4,0.4,0.1,0.15,0.25,0.3,0.3,0.3],
 [0,0,0,0.5,0.2,0.05,0.45,0.45,0.45,0.45,0.4,-0.1,-0.15,-0.05,-0.2,-0.2,-0.2,0.1,0.4,0.15,0.12,0.12,0.12,0.12,0.1,-0.3,-0.2,0.05,0.12,0.12,0.12],
 [0,0,0,0.3,0.1,-0.05,0.2,0.2,0.2,0.2,0.15,-0.35,-0.45,-0.3,-0.6,-0.6,-0.6,0.0,0.4,0.0,-0.5,-0.5,-0.5,-0.5,-0.2,-0.6,-0.55,-0.15,-0.1,-0.1,-0.1],
 [0,0,0,0.35,0.15,0.0,0.3,0.3,0.3,0.3,0.25,-0.25,-0.33,-0.2,-0.42,-0.42,-0.42,0.0,0.25,-0.05,-0.3,-0.3,-0.3,-0.3,-0.1,-0.38,-0.3,-0.05,0.2,0.2,0.2],
 [0,0,0,0.45,0.2,0.1,0.2,0.2,0.2,0.2,0.15,-0.15,-0.2,-0.1,-0.25,-0.25,-0.25,-0.05,0.3,0.05,-0.15,-0.15,-0.15,-0.15,0.05,-0.2,-0.15,-0.2,-0.25,-0.25,-0.25],
 [0,0,0,0.6,0.25,0.05,0.25,0.25,0.25,0.25,0.2,-0.3,-0.4,-0.25,-0.5,-0.5,-0.5,-0.1,0.45,0.05,-0.7,-0.75,-0.75,-0.75,-0.7,-0.85,-0.8,-0.5,-0.42,-0.42,-0.42],
 [0,0,0,0.55,0.25,0.05,0.6,0.6,0.6,0.6,0.55,-0.2,-0.3,-0.1,-0.45,-0.45,-0.45,0.1,0.55,0.0,-0.45,-0.45,-0.45,-0.45,-0.3,-0.5,-0.45,-0.1,0.0,0.0,0.0]
];

// ---- SOLUSDT
var solTicks = [-8,-6,-4,-2,0,2,4];
var solEnsemble = [0,-0.15,-0.35,-0.51,-0.47,-0.36,-0.26,-0.26,-0.33,-0.29,-0.26,0.03,0.19,0.25,-0.4,-0.26,-0.4,-0.88,-0.65,-1.06,-1.42,-1.51,-1.51,-1.49,-1.53,-1.37,-1.13,-1.13,-1.15,-1.08,-1.08];
var solModels = [
 [0,1.7,2.75,3.0,3.1,2.95,1.9,1.9,3.3,2.85,2.75,3.05,3.5,3.62,2.45,2.8,2.6,1.55,1.45,0.48,0.48,0.48,0.28,0.28,0.15,1.0,3.55,3.4,3.38,3.72,3.7],
 [0,0.75,0.75,0.75,0.75,0.75,0.75,0.75,2.0,1.72,1.72,1.72,1.72,1.75,1.43,1.53,1.53,1.53,1.53,2.28,2.92,3.21,3.25,3.25,3.22,3.22,3.22,3.22,3.22,3.22,3.22],
 [0,0.8,1.85,2.37,2.27,2.0,0.75,0.75,2.6,2.48,2.4,1.95,2.25,2.3,1.55,2.12,1.75,0.5,0.85,0.7,0.58,0.52,0.55,0.6,0.47,0.95,1.05,1.05,1.07,0.57,0.63],
 [0,0.5,0.2,0.8,0.85,1.55,1.8,1.8,2.2,2.12,2.07,1.8,1.6,1.7,0.9,0.7,0.5,0.3,0.05,-0.2,-1.9,-2.35,-2.2,-2.1,-2.3,-1.5,-2.0,-1.97,-1.97,-2.1,-2.1],
 [0,-1.7,-3.35,-4.35,-4.2,-3.65,-1.97,-1.97,-4.5,-3.7,-3.2,0.3,0.4,0.65,-2.4,-1.9,-2.2,-3.58,-2.55,-4.8,-7.03,-7.5,-7.33,-7.28,-7.28,-7.25,-7.22,-7.18,-7.15,-7.55,-7.5],
 [0,-1.2,-2.5,-3.55,-3.5,-3.3,-2.95,-2.95,-2.25,-2.4,-2.5,-2.25,-2.1,-2.05,-3.3,-2.9,-3.15,-4.5,-3.95,-5.25,-5.3,-5.33,-5.32,-5.32,-5.25,-5.55,-6.05,-6.05,-6.05,-6.05,-6.05],
 [0,-1.0,-2.1,-3.1,-2.93,-2.3,-1.3,-1.3,-2.8,-2.5,-2.25,-0.5,-0.45,-0.4,-2.2,-1.65,-2.0,-3.55,-2.95,-4.5,-5.7,-6.25,-6.05,-6.0,-6.1,-5.7,-4.7,-4.8,-4.8,-4.3,-4.33],
 [0,-0.2,-0.5,-0.7,-0.6,-0.35,-0.1,-0.1,0.25,-0.05,-0.3,-0.95,-1.75,-1.9,-0.6,-0.62,-0.65,-1.5,-1.33,-3.13,-3.67,-3.67,-3.76,-3.76,-3.8,-4.03,-4.03,-3.97,-3.94,-4.4,-4.35],
 [0,-0.3,-0.8,-1.8,-1.7,-1.4,-0.8,-0.8,-1.6,-1.45,-1.3,-0.6,-0.45,-0.35,-1.2,-1.0,-1.1,-2.05,-1.75,-2.6,-3.35,-3.65,-3.55,-3.52,-3.6,-3.3,-2.7,-2.75,-2.77,-2.45,-2.48],
 [0,-0.4,-1.0,-1.9,-1.8,-1.45,-0.7,-0.7,-1.75,-1.55,-1.4,-0.55,-0.35,-0.25,-1.35,-1.0,-1.2,-2.2,-1.85,-2.8,-3.65,-3.95,-3.82,-3.8,-3.85,-3.55,-2.9,-2.95,-2.97,-2.65,-2.67],
 [0,0.2,0.3,0.45,0.42,0.4,0.42,0.42,0.55,0.7,0.72,0.72,0.7,0.77,0.55,0.9,0.82,0.82,1.2,0.8,0.42,0.4,0.4,0.4,0.33,0.5,0.5,0.45,0.42,0.72,0.73],
 [0,-0.3,-0.7,-1.2,-1.1,-0.85,-0.85,-0.85,-0.85,-0.8,-0.7,-0.4,-0.15,-0.1,-0.7,-0.3,-0.8,-1.95,-2.05,-1.85,-1.75,-1.7,-1.85,-1.85,-1.95,-1.9,-2.05,-2.05,-2.05,-2.1,-2.15],
 [0,0.1,0.05,0.05,0.1,0.3,0.45,0.45,0.45,0.5,0.45,0.45,0.55,0.6,0.0,0.15,0.05,-0.4,-0.4,-0.4,-0.4,-0.5,-0.48,-0.45,-0.55,-0.3,-0.05,-0.05,0.05,0.15,0.15],
 [0,0.2,0.1,-0.35,-0.3,-0.15,-0.1,-0.1,-0.25,-0.2,-0.15,-0.2,-0.5,-0.4,-0.5,-0.5,-0.55,-0.5,-0.5,-0.55,-0.75,-0.85,-0.82,-0.8,-0.82,-0.7,-0.6,-0.62,-0.62,-0.57,-0.57],
 [0,-0.3,-0.8,-1.4,-1.3,-1.0,-0.6,-0.6,-0.75,-0.8,-0.9,-0.5,-0.3,-0.25,-1.3,-0.95,-1.15,-1.6,-1.4,-2.0,-2.4,-2.3,-2.2,-2.1,-2.15,-1.9,-1.5,-1.5,-1.5,-1.3,-1.35]
];

// ---- SPYUSDT
var spyTicks = [-1.5,-1.0,-0.5,0,0.5,1.0,1.5];
var spyEnsemble = [0,0,0,0.27,0.18,-0.03,0.12,0.12,0.12,0.12,0.08,-0.13,-0.14,-0.12,-0.23,-0.23,-0.23,0.0,0.14,0.11,0.09,0.09,0.09,0.09,0.23,0.15,0.1,0.2,0.29,0.29,0.29];
var spyModels = [
 [0,0,0,1.75,1.15,0.0,0.8,0.8,0.8,0.8,0.52,-0.77,-0.82,-0.67,-1.38,-1.38,-1.38,0.2,0.96,0.85,0.7,0.7,0.7,0.7,1.47,1.05,0.78,1.31,1.57,1.57,1.57],
 [0,0,0,1.13,0.75,-0.47,0.6,0.6,0.6,0.6,0.45,-0.65,-0.66,-0.62,-0.87,-0.87,-0.87,-0.4,-0.14,-0.18,-0.22,-0.22,-0.22,-0.22,0.1,0.0,-0.08,0.1,0.05,0.05,0.05],
 [0,0,0,0.79,0.53,0.05,0.48,0.48,0.48,0.48,0.3,-0.32,-0.34,-0.28,-0.62,-0.62,-0.62,0.55,0.64,0.62,0.6,0.6,0.6,0.6,0.78,0.77,0.75,0.9,0.88,0.88,0.88],
 [0,0,0,0.35,0.2,0.45,0.33,0.33,0.33,0.33,0.35,0.75,0.76,0.73,0.92,0.92,0.92,0.88,0.96,0.94,0.94,0.94,0.94,0.94,0.92,0.93,0.88,0.97,0.89,0.89,0.89],
 [0,0,0,-0.17,-0.24,-0.2,-0.2,-0.2,-0.2,-0.2,-0.28,-1.02,-1.04,-1.0,-1.17,-1.17,-1.17,-0.8,-0.63,-0.66,-0.66,-0.66,-0.66,-0.66,-0.66,-0.78,-0.95,-0.75,-0.65,-0.65,-0.65],
 [0,0,0,0.5,0.38,-0.1,0.05,0.05,0.05,0.05,0.0,-0.8,-0.82,-0.75,-0.97,-0.97,-0.97,0.74,0.9,0.85,0.81,0.81,0.81,0.81,0.74,0.66,0.66,0.62,0.65,0.65,0.65],
 [0,0,0,0.2,0.15,-0.1,0.0,0.0,0.0,0.0,0.0,0.05,0.05,0.05,0.0,0.0,0.0,0.0,-0.2,-0.3,-0.4,-0.4,-0.4,-0.4,0.1,-0.25,-0.45,0.3,0.47,0.47,0.47],
 [0,0,0,0.55,0.3,-0.2,0.1,0.1,0.1,0.1,0.05,0.05,0.05,0.08,0.2,0.2,0.2,0.4,0.5,0.48,0.47,0.47,0.47,0.47,0.65,0.62,0.6,0.65,0.66,0.66,0.66],
 [0,0,0,0.2,0.1,-0.1,0.0,0.0,0.0,0.0,-0.05,-0.2,-0.2,-0.18,-0.42,-0.42,-0.42,-0.3,-0.24,-0.26,-0.27,-0.27,-0.27,-0.27,-0.27,-0.4,-0.55,-0.45,-0.4,-0.4,-0.4],
 [0,0,0,0.4,0.25,-0.3,0.2,0.2,0.2,0.2,0.15,-0.1,-0.1,-0.08,-0.3,-0.3,-0.3,-0.1,0.0,0.0,-0.02,-0.02,-0.02,-0.02,0.15,0.0,-0.1,-0.35,-0.25,-0.25,-0.25],
 [0,0,0,0.25,0.15,0.0,0.12,0.12,0.12,0.12,0.1,0.32,0.31,0.33,0.22,0.22,0.22,-0.4,-0.5,-0.48,-0.5,-0.5,-0.5,-0.5,-0.4,-0.45,-0.5,-0.4,-0.33,-0.33,-0.33],
 [0,0,0,0.35,0.25,0.0,0.2,0.2,0.2,0.2,0.15,0.2,0.2,0.2,0.25,0.25,0.25,0.2,0.27,0.25,0.24,0.24,0.24,0.24,0.35,0.3,0.25,0.32,0.38,0.38,0.38],
 [0,0,0,0.15,0.05,0.0,0.52,0.52,0.52,0.52,0.4,-0.4,-0.43,-0.38,-0.48,-0.48,-0.48,-0.25,-0.15,-0.18,-0.2,-0.2,-0.2,-0.2,0.08,0.2,0.25,0.3,0.35,0.35,0.35],
 [0,0,0,0.3,0.2,0.05,0.15,0.15,0.15,0.15,0.1,-0.2,-0.22,-0.2,-0.3,-0.3,-0.3,0.0,0.1,0.05,0.02,0.02,0.02,0.02,0.15,0.05,0.0,0.12,0.2,0.2,0.2],
 [0,0,0,0.22,0.15,0.0,0.1,0.1,0.1,0.1,0.05,-0.15,-0.15,-0.12,-0.2,-0.2,-0.2,0.05,0.2,0.2,0.18,0.18,0.18,0.18,0.3,0.22,0.15,0.25,0.3,0.3,0.3],
 [0,0,0,0.28,0.2,-0.1,0.15,0.15,0.15,0.15,0.1,-0.1,-0.12,-0.1,-0.25,-0.25,-0.25,0.05,0.25,0.3,0.33,0.33,0.33,0.33,0.45,0.35,0.3,0.4,0.6,0.6,0.6],
 [0,0,0,0.42,0.25,-0.05,0.22,0.22,0.22,0.22,0.18,-0.25,-0.26,-0.22,-0.35,-0.35,-0.35,-0.05,0.05,0.03,0.0,0.0,0.0,0.0,0.18,0.1,0.05,0.1,0.15,0.15,0.15]
];

// ---- XAGUSDT
var xagTicks = [-6,-4,-2,0,2,4];
var xagEnsemble = [0,0,0,0.0,0.0,0.0,-0.26,-0.26,-0.26,-0.26,-0.32,-0.3,-0.05,-0.08,-0.12,-0.12,-0.12,0.07,-0.1,-0.12,-0.12,-0.12,-0.12,-0.12,0.02,-0.12,-0.57,-0.22,-0.25,-0.25,-0.25];
var xagModels = [
 [0,0,0,0.4,0.4,0.45,0.5,0.5,0.5,0.5,0.9,3.7,5.25,4.98,4.62,4.62,4.62,4.78,4.58,4.48,4.15,4.15,4.15,4.15,3.92,3.67,1.75,2.32,2.3,2.3,2.3],
 [0,0,0,0.15,0.1,0.05,0.7,0.7,0.7,0.7,0.78,1.5,2.57,2.5,2.75,2.75,2.75,2.9,2.55,2.35,2.2,2.2,2.2,2.2,1.82,2.1,2.5,3.15,3.23,3.23,3.23],
 [0,0,0,0.3,0.3,0.25,0.3,0.3,0.3,0.3,0.33,0.15,1.6,1.62,1.72,1.72,1.72,2.02,2.02,2.25,2.22,2.22,2.22,2.22,1.85,1.72,0.9,1.8,1.73,1.73,1.73],
 [0,0,0,0.85,0.82,0.85,0.17,0.17,0.17,0.17,0.2,0.35,0.97,0.97,0.97,0.97,0.97,1.15,1.05,1.2,1.38,1.38,1.38,1.38,1.75,1.75,1.45,2.33,2.33,2.33,2.33],
 [0,0,0,-0.2,-0.2,-0.3,0.7,0.7,0.7,0.7,0.45,0.65,1.33,1.3,1.02,1.02,1.02,1.02,1.05,1.47,1.73,1.73,1.73,1.73,1.88,2.0,2.0,2.3,2.1,2.1,2.1],
 [0,0,0,-0.4,-0.45,-0.6,-0.93,-0.93,-0.93,-0.93,-1.25,-3.8,-4.77,-4.75,-4.8,-4.8,-4.8,-4.32,-5.12,-5.4,-5.42,-5.42,-5.42,-5.42,-5.3,-5.4,-6.7,-6.55,-6.55,-6.55,-6.55],
 [0,0,0,0.5,0.48,0.3,-0.93,-0.93,-0.93,-0.93,-1.2,-2.2,-3.35,-3.3,-3.42,-3.42,-3.42,-3.4,-3.5,-3.45,-3.32,-3.32,-3.32,-3.32,-2.87,-3.35,-4.07,-4.4,-4.3,-4.3,-4.3],
 [0,0,0,-0.7,-0.7,-0.9,-1.37,-1.37,-1.37,-1.37,-1.6,-2.95,-2.95,-3.05,-3.5,-3.5,-3.5,-3.25,-3.8,-3.82,-3.65,-3.65,-3.65,-3.65,-3.45,-3.9,-4.82,-3.82,-3.7,-3.7,-3.7],
 [0,0,0,-0.2,-0.2,-0.25,-0.55,-0.55,-0.55,-0.55,-0.78,-1.4,-2.1,-2.15,-2.0,-2.0,-2.0,-2.03,-1.9,-1.88,-1.8,-1.8,-1.8,-1.8,-1.5,-1.8,-2.25,-1.88,-1.97,-1.97,-1.97],
 [0,0,0,0.2,0.2,0.15,0.7,0.7,0.7,0.7,0.9,1.5,0.55,0.5,0.68,0.68,0.68,0.65,0.6,0.6,0.6,0.6,0.6,0.6,0.97,0.6,-0.2,0.45,0.4,0.4,0.4],
 [0,0,0,0.1,0.1,0.1,-0.95,-0.95,-0.95,-0.95,-0.98,-1.93,-1.93,-1.92,-1.68,-1.68,-1.68,-1.68,-1.3,-1.12,-0.95,-0.95,-0.95,-0.95,-0.6,-0.88,-0.6,-0.15,-0.05,-0.05,-0.05],
 [0,0,0,0.3,0.25,0.25,0.65,0.65,0.65,0.65,0.45,0.6,1.32,1.3,1.02,1.02,1.02,1.5,1.1,0.98,0.78,0.78,0.78,0.78,0.82,0.6,-0.45,0.25,0.27,0.27,0.27],
 [0,0,0,0.35,0.35,1.05,-0.6,-0.6,-0.6,-0.6,-0.6,-0.6,-0.6,-0.65,-0.5,-0.5,-0.5,-0.55,-0.4,-0.38,-0.27,-0.27,-0.27,-0.27,-0.2,-0.45,-0.8,-0.35,-0.5,-0.5,-0.5],
 [0,0,0,-0.2,-0.22,-0.25,-0.6,-0.6,-0.6,-0.6,-0.55,-0.45,0.8,0.7,0.4,0.4,0.4,0.35,-0.57,-0.72,-0.8,-0.8,-0.8,-0.8,-0.67,-0.8,-0.93,-1.08,-1.0,-1.0,-1.0]
];

// ---- XAUUSDT
var xauTicks = [-4,-2,0,2,4];
var xauEnsemble = [0,0,0,0.17,0.18,0.2,-0.1,-0.1,-0.1,-0.1,-0.2,-0.45,-0.63,-0.55,-0.47,-0.47,-0.47,-0.58,-0.58,-0.45,-0.35,-0.35,-0.35,-0.35,-0.25,-0.35,-0.65,-0.35,-0.47,-0.47,-0.47];
var xauModels = [
 [0,0,0,-2.4,-2.95,-2.05,1.07,1.07,1.07,1.07,1.45,3.0,5.1,4.25,3.35,3.35,3.35,3.95,4.0,3.65,3.35,3.35,3.35,3.35,2.95,3.25,3.27,3.25,3.25,3.25,3.25],
 [0,0,0,0.1,0.1,0.0,1.3,1.3,1.3,1.3,1.25,1.5,2.95,2.78,2.58,2.58,2.58,2.45,2.45,2.18,2.02,2.02,2.02,2.02,2.1,2.05,2.07,2.42,2.42,2.42,2.42],
 [0,0,0,-0.97,-0.98,-1.22,-1.0,-1.0,-1.0,-1.0,-1.3,-2.5,-3.95,-3.3,-2.62,-2.62,-2.62,-3.48,-3.5,-3.05,-2.3,-2.3,-2.3,-2.3,-1.6,-2.15,-2.98,-2.25,-2.72,-2.72,-2.72],
 [0,0,0,1.6,2.0,1.35,-0.45,-0.45,-0.45,-0.45,-0.5,-0.9,-1.75,-1.4,-1.15,-1.15,-1.15,-1.5,-1.45,-1.3,-0.9,-0.9,-0.9,-0.9,-0.85,-1.0,-1.4,-1.0,-1.1,-1.1,-1.1],
 [0,0,0,-1.1,-1.15,-1.35,-0.85,-0.85,-0.85,-0.85,-0.6,-0.7,-0.9,-1.0,-1.05,-1.05,-1.05,-1.05,-1.1,-1.15,-1.05,-1.05,-1.05,-1.05,-1.0,-1.05,-1.05,-1.1,-1.15,-1.15,-1.15],
 [0,0,0,1.05,1.25,0.95,0.5,0.5,0.5,0.5,0.3,0.2,-0.2,-0.25,-0.3,-0.3,-0.3,-0.3,-0.3,-0.2,-0.2,-0.2,-0.2,-0.2,-0.15,-0.2,-0.4,-0.2,-0.25,-0.25,-0.25],
 [0,0,0,0.4,0.45,0.55,0.0,0.0,0.0,0.0,0.0,0.1,0.55,0.43,0.6,0.6,0.6,0.4,0.4,0.55,0.7,0.7,0.7,0.7,0.85,0.68,0.4,0.63,0.55,0.55,0.55],
 [0,0,0,0.25,0.25,0.3,-0.75,-0.75,-0.75,-0.75,-0.8,-1.1,-1.5,-1.55,-1.4,-1.4,-1.4,-1.6,-1.6,-1.7,-1.55,-1.55,-1.55,-1.55,-1.65,-1.7,-2.37,-2.22,-2.3,-2.3,-2.3],
 [0,0,0,0.8,0.8,1.0,0.85,0.85,0.85,0.85,0.55,0.45,-0.45,-0.2,-0.1,-0.1,-0.1,-0.55,-1.0,-1.3,-1.4,-1.4,-1.4,-1.4,-1.45,-1.45,-1.9,-1.5,-1.68,-1.68,-1.68],
 [0,0,0,-0.1,-0.1,-0.05,-0.5,-0.5,-0.5,-0.5,-0.55,-0.7,-1.45,-1.45,-1.55,-1.55,-1.55,-1.5,-1.5,-1.3,-1.25,-1.25,-1.25,-1.25,-1.1,-1.3,-1.65,-1.45,-1.52,-1.52,-1.52],
 [0,0,0,0.65,0.7,0.75,0.6,0.6,0.6,0.6,0.45,0.25,0.1,0.35,0.45,0.45,0.45,0.0,0.0,0.1,0.0,0.0,0.0,0.0,0.0,0.1,0.2,0.35,0.4,0.4,0.4],
 [0,0,0,0.9,1.0,0.75,0.4,0.4,0.4,0.4,0.35,0.3,0.35,0.1,0.2,0.2,0.2,0.35,0.35,0.35,0.45,0.45,0.45,0.45,0.55,0.5,0.15,0.3,0.2,0.2,0.2],
 [0,0,0,-0.15,-0.15,-0.1,-0.8,-0.8,-0.8,-0.8,-0.85,-1.1,-1.7,-1.3,-1.25,-1.25,-1.25,-1.55,-1.5,-1.3,-1.15,-1.15,-1.15,-1.15,-0.85,-1.0,-1.2,-1.1,-1.25,-1.25,-1.25],
 [0,0,0,0.3,0.35,0.45,-0.35,-0.35,-0.35,-0.35,-0.4,-0.6,-0.95,-0.8,-0.65,-0.65,-0.65,-0.75,-0.75,-0.6,-0.5,-0.5,-0.5,-0.5,-0.4,-0.5,-0.8,-0.55,-0.7,-0.7,-0.7],
 [0,0,0,0.35,0.4,0.5,-0.05,-0.05,-0.05,-0.05,-0.1,-0.3,-0.85,-0.95,-0.95,-0.95,-0.95,-0.9,-0.85,-0.6,-0.4,-0.4,-0.4,-0.4,-0.35,-0.45,-0.85,-0.5,-0.3,-0.3,-0.3],
 [0,0,0,0.8,0.8,0.95,-0.45,-0.45,-0.45,-0.45,-0.5,-0.7,-1.05,-0.9,-0.8,-0.8,-0.8,-0.95,-0.95,-0.75,-0.6,-0.6,-0.6,-0.6,-0.5,-0.6,-1.0,-0.7,-0.85,-0.85,-0.85],
 [0,0,0,0.65,0.65,0.8,-0.8,-0.8,-0.8,-0.8,-0.85,-1.0,-1.3,-1.1,-1.0,-1.0,-1.0,-1.1,-1.1,-0.95,-0.85,-0.85,-0.85,-0.85,-0.75,-0.85,-1.1,-0.85,-0.95,-0.95,-0.95],
 [0,0,0,-0.35,-0.35,-0.25,-0.85,-0.85,-0.85,-0.85,-0.9,-1.0,-1.25,-1.15,-1.1,-1.1,-1.1,-1.15,-1.2,-1.1,-1.0,-1.0,-1.0,-1.0,-0.9,-1.0,-1.3,-1.05,-1.12,-1.12,-1.12],
 [0,0,0,0.35,0.4,0.45,-0.6,-0.6,-0.6,-0.6,-0.65,-0.8,-0.85,-0.9,-0.8,-0.8,-0.8,-0.85,-0.85,-0.75,-0.6,-0.6,-0.6,-0.6,-0.45,-0.55,-0.9,-0.6,-0.75,-0.75,-0.75],
 [0,0,0,0.4,0.45,0.5,-0.25,-0.25,-0.25,-0.25,-0.3,-0.4,-0.5,-0.35,-0.25,-0.25,-0.25,-0.35,-0.35,-0.2,0.1,0.15,0.15,0.15,0.3,0.2,-0.2,0.1,0.0,0.0,0.0]
];

// ---- XRPUSDT
var xrpTicks = [-6,-4,-2,0,2,4,6,8];
var xrpEnsemble = [0,0.1,0.35,0.8,0.65,0.3,-0.1,-0.15,-0.1,-0.15,-0.15,-0.15,-0.2,-0.25,-0.25,-0.25,-0.25,-0.25,-0.2,-0.2,-0.1,0.15,0.2,0.2,0.2,0.0,-0.1,-0.1,-0.1,-0.1,-0.05];
var xrpModels = [
 [0,1.2,3.5,5.74,4.8,3.5,2.64,2.42,2.71,2.71,2.71,2.71,3.55,4.34,4.16,4.16,4.16,4.16,3.7,4.0,4.86,7.12,8.18,8.14,7.84,7.12,6.55,6.64,7.1,6.76,6.6],
 [0,1.0,3.0,5.7,4.4,2.8,0.8,0.3,0.8,0.25,0.15,0.15,0.5,1.45,1.4,1.4,1.4,1.2,-0.6,0.3,1.5,5.88,7.47,7.45,6.65,4.35,2.9,3.1,3.6,3.4,3.4],
 [0,0.5,1.4,3.85,2.9,1.5,0.4,0.1,0.15,0.2,0.05,0.1,1.5,4.16,3.7,3.8,3.73,3.1,4.27,3.77,2.53,0.6,-0.45,-0.45,0.0,2.75,4.4,4.18,3.39,4.0,4.75],
 [0,-0.8,-2.0,-3.95,-3.6,-3.1,-2.45,-2.05,-2.6,-1.65,-1.9,-1.2,-1.45,-1.5,-1.45,-1.45,-1.45,-1.45,-1.5,-1.1,-0.9,-0.9,-0.9,-0.9,-0.9,-0.65,-0.9,-0.9,-0.85,-0.9,-0.95],
 [0,-0.4,-1.1,-2.55,-2.33,-1.76,-1.72,-1.72,-1.45,-1.5,-2.0,-2.2,-2.67,-2.7,-2.78,-2.78,-2.78,-3.23,-2.49,-2.26,-3.1,-5.49,-5.72,-5.72,-5.6,-5.45,-5.04,-5.04,-5.22,-5.27,-5.1],
 [0,-0.5,-1.1,-1.6,-1.45,-1.2,-0.3,-1.2,-1.8,-1.0,-1.65,-1.85,-3.0,-5.05,-4.75,-4.8,-4.75,-4.2,-5.25,-4.5,-2.8,0.2,1.4,1.4,0.9,-0.2,-2.35,-2.2,-1.55,-2.0,-2.65],
 [0,0.7,1.5,2.65,2.2,2.2,2.2,2.2,1.9,2.45,2.35,2.35,2.3,2.3,2.3,2.2,2.2,2.2,2.2,2.2,1.5,0.3,-0.2,-0.3,-0.3,-0.2,-0.6,-0.6,-0.3,-0.7,-1.25],
 [0,0.3,0.8,1.85,1.4,1.4,1.1,1.1,1.2,1.2,1.25,1.3,1.45,1.45,1.3,1.3,1.3,0.8,1.2,0.8,1.8,3.45,3.75,3.75,3.7,3.45,2.8,2.8,2.65,2.95,3.2],
 [0,0.3,0.8,1.95,1.7,0.8,-0.7,-1.6,-1.6,-1.8,-1.6,-1.7,-2.6,-3.5,-3.35,-3.4,-3.35,-2.95,-3.4,-2.9,-1.9,-1.9,-1.85,-1.85,-2.1,-2.9,-3.5,-3.35,-2.9,-3.2,-3.55],
 [0,0.2,0.4,0.5,0.4,0.3,-0.3,-0.6,-0.4,-0.3,-0.8,-0.85,-1.5,-2.3,-2.35,-2.35,-2.35,-2.15,-2.5,-2.25,-1.6,0.8,1.3,1.3,1.3,1.3,1.3,1.3,1.3,1.3,1.3],
 [0,0.1,0.2,0.3,0.5,0.6,0.6,0.4,0.6,0.3,0.4,0.4,0.9,1.55,1.5,1.5,1.5,1.2,1.7,1.5,1.2,1.8,2.25,2.25,2.25,2.25,2.2,2.2,2.0,2.1,2.3],
 [0,-0.2,-0.4,-0.55,-0.5,-0.4,-0.75,-0.8,-0.75,-1.0,-1.0,-1.1,-1.25,-1.45,-1.45,-1.45,-1.45,-1.4,-1.45,-1.05,-0.9,-0.85,-0.85,-0.85,-0.85,-0.85,-0.95,-1.35,-1.35,-1.45,-1.45],
 [0,-0.5,-1.5,-2.8,-2.35,-2.3,-2.25,-2.25,-2.3,-2.1,-2.15,-1.2,0.4,0.6,0.5,0.5,0.5,0.0,0.85,0.0,-1.5,-2.8,-3.4,-3.4,-3.35,-3.2,-3.15,-3.2,-3.5,-3.3,-2.8]
];

// ---- styling
var palette = {b:'#60a5fa', o:'#f59e0b', g:'#34d399', r:'#f87171', p:'#a78bfa', k:'#f472b6', c:'#22d3ee', l:'#84cc16', s:'#38bdf8'};
var FONT = 'DejaVu Sans';
var BG = '#0b101d', PANEL = '#111827', BORDER = '#2b3546', GRIDC = '#1d2535', LABELC = '#7b8494', TEXTC = '#e5e7eb';

var panels = [
  {ens: btcEnsemble, models: btcModels, ticks: btcTicks, colors: 'kbrpcoocgcprlkgbkp', min: -9.29, max: 4.67, dec: 1, legend: 'right'},
  {ens: clEnsemble, models: clModels, ticks: clTicks, colors: 'plkcbggkcoorb', min: -9.21, max: 3.96, dec: 1, legend: 'left'},
  {ens: cuEnsemble, models: cuModels, ticks: cuTicks, colors: 'lgrkpcboorcbp', min: -3.07, max: 5.27, dec: 1, legend: 'left'},
  {ens: dogeEnsemble, models: dogeModels, ticks: dogeTicks, colors: 'poplbcgcrobokkgpocgkpl', min: -15.67, max: 16.0, dec: 1, legend: 'right'},
  {ens: ethEnsemble, models: ethModels, ticks: ethTicks, colors: 'korgcbllprgockobpcrb', min: -8.69, max: 5.44, dec: 1, legend: 'left'},
  {ens: ewyEnsemble, models: ewyModels, ticks: ewyTicks, colors: 'bggprkoocclbk', min: -7.87, max: 7.86, dec: 1, legend: 'left'},
  {ens: ngEnsemble, models: ngModels, ticks: ngTicks, colors: 'cglorbplksor', min: -3.54, max: 4.33, dec: 1, legend: 'left'},
  {ens: qqqEnsemble, models: qqqModels, ticks: qqqTicks, colors: 'ooprglocrpbkgcbkgp', min: -2.86, max: 3.43, dec: 1, legend: 'right'},
  {ens: solEnsemble, models: solModels, ticks: solTicks, colors: 'lorglrbpkgcokbc', min: -8.12, max: 4.32, dec: 1, legend: 'left'},
  {ens: spyEnsemble, models: spyModels, ticks: spyTicks, colors: 'oboccppkrgosbcokg', min: -1.55, max: 1.92, dec: 2, legend: 'right'},
  {ens: xagEnsemble, models: xagModels, ticks: xagTicks, colors: 'cgcorpporllkbk', min: -7.3, max: 5.86, dec: 1, legend: 'right'},
  {ens: xauEnsemble, models: xauModels, ticks: xauTicks, colors: 'koccrroobpgclsobgrok', min: -4.4, max: 5.58, dec: 1, legend: 'right'},
  {ens: xrpEnsemble, models: xrpModels, ticks: xrpTicks, colors: 'bkoobrlgcpkol', min: -6.4, max: 8.86, dec: 1, legend: 'left'}
];

var W = 2671;
var colLeft = [109, 993, 1875];
var rowTop = [228, 852, 1474, 2097, 2719];
var plotW = 779, plotH = 527;

var xTickIdx = tickLabels.map(function (d) { return days.indexOf(d); });

var grids = [], xAxes = [], yAxes = [], series = [], titles = [], legends = [];

titles.push({
  text: '30D cumulative returns by active model and symbol ensemble',
  left: 'center', top: 18, padding: 0,
  textStyle: {color: TEXTC, fontFamily: FONT, fontSize: 31, fontWeight: 'bold'}
});

panels.forEach(function (p, gi) {
  var left = colLeft[gi % 3], top = rowTop[Math.floor(gi / 3)];
  grids.push({left: left, top: top, width: plotW, height: plotH, show: true,
    backgroundColor: PANEL, borderColor: BORDER, borderWidth: 2, containLabel: false});

  xAxes.push({
    gridIndex: gi, type: 'value', min: -1.5, max: days.length - 1 + 1.5,
    axisLine: {show: false},
    axisTick: {show: true, customValues: xTickIdx, length: 7, lineStyle: {color: '#4b5565', width: 1.5}},
    axisLabel: {customValues: xTickIdx, color: LABELC, fontFamily: FONT, fontSize: 21, margin: 21,
      formatter: function (v) { return days[Math.round(v)]; }},
    splitLine: {show: false}
  });

  yAxes.push({
    gridIndex: gi, type: 'value', min: p.min, max: p.max,
    axisLine: {show: false},
    axisTick: {show: true, customValues: p.ticks, length: 7, lineStyle: {color: '#4b5565', width: 1.5}},
    axisLabel: {customValues: p.ticks, color: LABELC, fontFamily: FONT, fontSize: 21, margin: 13,
      formatter: function (v) { return v.toFixed(p.dec) + '%'; }},
    splitLine: {show: true, lineStyle: {color: GRIDC, width: 1.5}}
  });

  titles.push({
    text: symbols[gi] + ' \u00b7 ' + modelCounts[gi] + ' models',
    left: left + plotW / 2, top: top - 33, textAlign: 'center', padding: 0,
    textStyle: {color: TEXTC, fontFamily: FONT, fontSize: 27, fontWeight: 'normal'}
  });

  p.models.forEach(function (vals, mi) {
    series.push({
      type: 'line', xAxisIndex: gi, yAxisIndex: gi, silent: true,
      showSymbol: false, symbol: 'none', z: 2,
      lineStyle: {color: palette[p.colors[mi]], width: 2.2, opacity: 0.78},
      data: vals.map(function (v, i) { return [i, v]; })
    });
  });

  // zero reference line
  series.push({
    type: 'line', xAxisIndex: gi, yAxisIndex: gi, silent: true, data: [], z: 3,
    markLine: {silent: true, symbol: 'none', label: {show: false},
      lineStyle: {color: '#6b7280', width: 2.2, type: 'solid', opacity: 0.9},
      data: [{yAxis: 0}]}
  });

  series.push({
    name: 'Symbol ensemble', type: 'line', xAxisIndex: gi, yAxisIndex: gi, silent: true,
    showSymbol: false, symbol: 'none', z: 5,
    itemStyle: {color: '#f1f5f9'},
    lineStyle: {color: '#f1f5f9', width: 5.5},
    data: p.ens.map(function (v, i) { return [i, v]; })
  });

  var lg = {
    data: ['Symbol ensemble'], top: top + 19, orient: 'horizontal', padding: 0,
    icon: 'rect', itemWidth: 41, itemHeight: 5, selectedMode: false,
    textStyle: {color: TEXTC, fontFamily: FONT, fontSize: 17.5, padding: [0, 0, 0, 7]}
  };
  if (p.legend === 'right') lg.right = W - (left + plotW) + 16;
  else lg.left = left + 14;
  legends.push(lg);
});

var chart = echarts.init(document.getElementById('chart'), null, {renderer: 'canvas'});
chart.setOption({
  backgroundColor: BG,
  animation: false,
  title: titles,
  legend: legends,
  grid: grids,
  xAxis: xAxes,
  yAxis: yAxes,
  series: series
});
</script>
</body>
</html>
